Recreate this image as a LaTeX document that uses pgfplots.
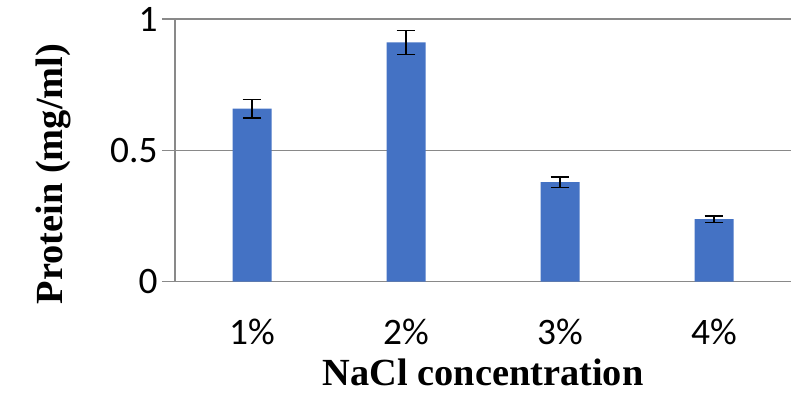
\documentclass[border=0pt]{standalone}
\usepackage{fontspec}
\usepackage{pgfplots}
\pgfplotsset{compat=1.18}
\newfontfamily\carlito{Carlito}
\newfontfamily\libserif{Liberation Serif}
\definecolor{barblue}{HTML}{4472C4}
\definecolor{gridgray}{HTML}{898989}
\begin{document}
\begin{tikzpicture}
\begin{axis}[
  scale only axis,
  width=616bp, height=262.7bp,
  xmin=0.5, xmax=4.5, ymin=0, ymax=1,
  axis x line=bottom, axis y line=left,
  axis line style={draw=gridgray, line width=1.3bp, -},
  xtick={1,2,3,4},
  xticklabels={1\%,2\%,3\%,4\%},
  ytick={0,0.5,1},
  yticklabels={0,0.5,1},
  /pgf/number format/assume math mode=true,
  xtick style={draw=none},
  ytick style={draw=gridgray, line width=1.3bp},
  tick align=outside,
  major tick length=13bp,
  ymajorgrids,
  grid style={draw=gridgray, line width=1.3bp},
  ticklabel style={font=\carlito\fontsize{37.5}{40}\selectfont, text=black},
  xticklabel style={anchor=base, yshift=-50bp},
  yticklabel style={anchor=east, xshift=-1bp},
  xlabel={NaCl concentration},
  ylabel={Protein (mg/ml)},
  label style={font=\libserif\bfseries\fontsize{38.5}{42}\selectfont},
  xlabel style={at={(axis description cs:0.5,-0.3932)}, anchor=base},
  ylabel style={at={(axis description cs:-0.1834,0.41)}, anchor=base},
  clip=false,
]
\addplot[ybar, bar width=39bp, fill=barblue, draw=none,
  error bars/.cd, y dir=both, y explicit,
  error bar style={line width=1.5bp, black},
  error mark options={rotate=90, mark size=9.3bp, line width=1.5bp, black}]
  coordinates {
  (1,0.659) +- (0,0.035)
  (2,0.911) +- (0,0.046)
  (3,0.379) +- (0,0.020)
  (4,0.238) +- (0,0.013)
  };
\coordinate (ll) at (rel axis cs:0,0);
\coordinate (ur) at (rel axis cs:1,1);
\end{axis}
\pgfresetboundingbox
\path[use as bounding box] ([xshift=-175bp,yshift=-112.3bp]ll) rectangle ([xshift=9bp,yshift=19bp]ur);
\end{tikzpicture}
\end{document}
